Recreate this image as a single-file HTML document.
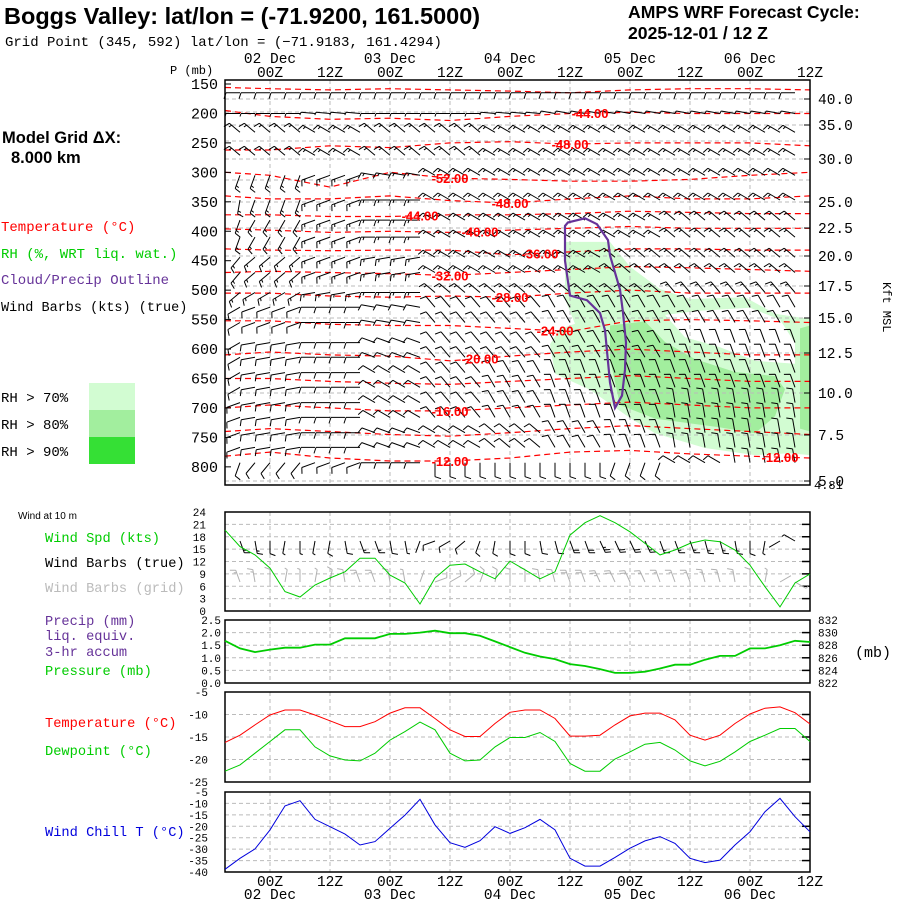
<!DOCTYPE html>
<html><head><meta charset="utf-8"><style>
html,body{margin:0;padding:0;background:#fff;}
svg{display:block;font-family:"Liberation Mono",monospace;}
.sans{font-family:"Liberation Sans",sans-serif;}
</style></head><body>
<svg id="svg" width="900" height="900" viewBox="0 0 900 900" xmlns="http://www.w3.org/2000/svg">
<g>
<text class="sans" x="4" y="24" font-size="23.5" font-weight="bold">Boggs Valley:  lat/lon = (-71.9200, 161.5000)</text>
<text x="5" y="46" font-size="14">Grid Point (345, 592) lat/lon = (−71.9183, 161.4294)</text>
<text class="sans" x="628" y="18" font-size="17.6" font-weight="bold">AMPS WRF Forecast Cycle:</text>
<text class="sans" x="628" y="39" font-size="17.6" font-weight="bold">2025-12-01 / 12  Z</text>
</g>
<g font-size="14">
<text class="sans" x="2" y="143" font-size="16.5" font-weight="bold">Model Grid ΔX:</text>
<text class="sans" x="11" y="163" font-size="16.5" font-weight="bold">8.000 km</text>
<text x="1" y="231" fill="#ff0000">Temperature (°C)</text>
<text x="1" y="258" fill="#00cc00">RH (%, WRT liq. wat.)</text>
<text x="1" y="284" fill="#663399">Cloud/Precip Outline</text>
<text x="1" y="311" font-size="13.5" fill="#000">Wind Barbs (kts) (true)</text>
<text x="1" y="402">RH &gt; 70%</text>
<text x="1" y="429">RH &gt; 80%</text>
<text x="1" y="456">RH &gt; 90%</text>
<rect x="89" y="383" width="46" height="27" fill="#d2fcd2"/>
<rect x="89" y="410" width="46" height="27" fill="#a2ee9e"/>
<rect x="89" y="437" width="46" height="27" fill="#35e035"/>
</g>
<g font-size="13.7">
<text class="sans" x="18" y="519" font-size="10">Wind at 10 m</text>
<text x="45" y="542" fill="#00cc00">Wind Spd (kts)</text>
<text x="45" y="567" fill="#000">Wind Barbs (true)</text>
<text x="45" y="592" fill="#bbbbbb">Wind Barbs (grid)</text>
<text x="45" y="625" fill="#663399">Precip (mm)</text>
<text x="45" y="640" fill="#663399">liq. equiv.</text>
<text x="45" y="656" fill="#663399">3-hr accum</text>
<text x="45" y="675" fill="#00cc00">Pressure (mb)</text>
<text x="45" y="727" fill="#ff0000">Temperature (°C)</text>
<text x="45" y="755" fill="#00cc00">Dewpoint (°C)</text>
<text x="45" y="836" fill="#0000dd">Wind Chill T (°C)</text>
<text x="855" y="657" font-size="15">(mb)</text>
<text x="170" y="74" font-size="12">P (mb)</text>
<text transform="translate(883,282) rotate(90)" font-size="12">Kft MSL</text>
</g>
<g id="main"></g>
<g id="bottom"></g>
</svg>
<script>
// ---------- data ----------
const hours3 = [0,3,6,9,12,15,18,21,24,27,30,33,36,39,42,45,48,51,54,57,60,63,66,69,72,75,78,81,84,87,90,93,96,99,102,105,108,111,114,117];
const gridHours = [9,21,33,45,57,69,81,93,105];
const gridLabels = ["00Z","12Z","00Z","12Z","00Z","12Z","00Z","12Z","00Z","12Z"];
const labelHours = [9,21,33,45,57,69,81,93,105,117];
const dateHours = [9,33,57,81,105];
const dateLabels = ["02 Dec","03 Dec","04 Dec","05 Dec","06 Dec"];
const pLevels = [150,200,250,300,350,400,450,500,550,600,650,700,750,800];
const kftVals = [40,37.5,35,32.5,30,27.5,25,22.5,20,17.5,15,12.5,10,7.5,5];
const kftY =    [99,112,125,141,159,180,202,228,256,286,318,353,393,435,481];
const kftLabels = ["40.0","35.0","30.0","25.0","22.5","20.0","17.5","15.0","12.5","10.0","7.5","5.0"];
const kftLabelVals = [40,35,30,25,22.5,20,17.5,15,12.5,10,7.5,5];

// isotherms: pressure (mb) at key hours
const isoHours = [0,9,21,33,45,57,69,81,93,105,117];
const isoTemps = [-40,-44,-48,-52,-48,-44,-40,-36,-32,-28,-24,-20,-18,-16,-14,-12];
const isoP = [
 [156,158,160,158,160,162,165,160,158,158,160],
 [195,205,210,208,212,205,200,198,200,200,200],
 [262,262,255,258,250,248,252,250,250,250,255],
 [300,305,325,300,310,312,315,315,312,305,300],
 [340,345,345,340,348,352,345,340,345,345,340],
 [372,372,375,375,372,372,370,366,368,370,370],
 [396,398,402,400,402,398,395,392,395,395,395],
 [430,432,433,432,432,440,435,430,430,432,432],
 [470,468,470,472,475,470,465,460,462,465,468],
 [505,505,510,512,510,512,505,500,505,505,505],
 [552,552,558,560,560,565,570,552,550,552,555],
 [610,605,610,612,620,612,605,600,605,610,610],
 [650,650,655,658,660,655,650,645,650,655,655],
 [700,695,700,705,705,700,695,690,695,700,700],
 [740,735,740,745,748,742,735,730,735,740,745],
 [782,775,785,790,790,785,775,772,778,782,785]
];
const isoLabelIdx = [1,2,3,4,5,6,7,8,9,10,11,13,15,15];
const isoLabelHour = [73,69,45,57,39,51,63,45,57,66,51,45,45,111];

// wind barbs aloft (key columns every 12h)
const barbRowsP = [165,200,232,271,305,347,381,410,444,470,504,529,555,589,614,640,665,691,716,742,767,793];
const keyLevels = [150,200,250,300,350,400,450,500,550,600,650,700,750,800];
const keyDirs = [
 [270,270,270,270,270,270,270,270,270,270],
 [270,270,275,270,270,275,280,280,280,280],
 [310,310,300,310,310,300,300,300,300,300],
 [200,200,250,280,300,300,300,300,300,300],
 [190,200,250,270,300,300,300,300,300,300],
 [200,210,250,270,300,300,300,300,310,310],
 [220,230,250,260,300,300,300,310,310,310],
 [230,240,260,270,310,310,310,310,320,320],
 [240,250,270,280,320,320,330,330,330,330],
 [240,260,270,290,320,320,330,330,340,340],
 [240,260,270,300,320,330,340,340,340,340],
 [250,260,270,300,320,330,340,340,350,350],
 [250,260,270,290,300,310,330,340,350,350],
 [200,220,250,270,180,180,180,200,300,350]
];
const keySpd = [10,5,15,15,15,15,15,15,10,10,10,10,10,10];

// RH > 70% region (hour, mb)
const rh70H = [68,77,81,87,93,104,110,117,117,113,106,96,86,81,73,66,65,67,70,68,68];
const rh70P = [418,418,460,498,515,512,540,549,780,777,780,768,743,717,669,642,592,566,557,515,464];
const holeH = [88,95,105,111,114,114,106,99,92];
const holeP = [542,535,530,550,590,625,620,597,580];
const rh80H = [77,84,88,94,102,110,112,110,106,99,86,79,77];
const rh80P = [560,553,588,617,639,646,668,714,743,733,718,695,617];
const rh80bH = [115,117,117,115];
const rh80bP = [565,560,740,735];

// cloud/precip outline (hour, mb)
const cloudH = [68.6,72,74.4,76.6,77,79,79.6,80.2,80,79.4,78,77,76,75,72.4,69,68,68];
const cloudP = [385,378,388,415,441,499,538,589,635,679,700,657,568,539,517,509,450,391];

// 10 m wind
const windSpd = [19.6,15.6,13.6,10.4,4.7,3.4,6.3,8,9.5,12.8,12.8,8.7,6.8,1.7,8,11.1,11.4,9.5,7.8,12.1,10,7.8,9.5,18.4,21.4,23.1,21.4,19.2,16.4,13.6,14.8,16.4,17.2,16.8,14.8,11.1,5.9,1.0,6.8,9.0];
const windDir = [160,160,170,180,190,180,190,190,170,160,160,170,170,200,250,240,230,200,190,180,180,170,165,160,160,155,155,155,155,160,160,160,165,165,170,180,190,240,300,290];
const windTicks = [0,3,6,9,12,15,18,21,24];
// pressure
const sfcP = [828.7,827.5,826.9,827.3,827.6,827.6,828.1,828.1,829.1,829.1,829.1,829.8,829.8,830.0,830.3,829.9,829.9,829.5,828.6,827.7,826.8,826.2,825.8,825.0,824.7,824.2,823.6,823.6,823.8,824.3,824.9,824.9,825.7,826.3,826.3,827.5,827.5,828.0,828.7,828.5];
const precipTicks = ["0.0","0.5","1.0","1.5","2.0","2.5"];
const presTicks = [822,824,826,828,830,832];
// temperature / dewpoint
const tempC = [-16.2,-14.6,-12.3,-10.1,-9.0,-9.0,-10.1,-11.4,-12.7,-12.7,-11.6,-9.7,-8.5,-8.5,-10.9,-13.4,-14.9,-14.9,-12.0,-9.5,-9.0,-9.0,-10.9,-14.8,-14.8,-14.6,-12.3,-10.3,-9.7,-9.7,-11.2,-14.6,-15.7,-14.6,-12.0,-9.9,-8.6,-8.3,-9.6,-12.1];
const dewC = [-22.6,-21.2,-18.6,-16.0,-13.4,-13.4,-17.2,-19.2,-20.1,-20.3,-18.6,-15.7,-13.8,-11.7,-13.4,-18.6,-20.3,-20.1,-17.2,-15.1,-15.1,-14.0,-16.0,-20.9,-22.6,-22.6,-19.9,-18.3,-16.6,-16.2,-17.9,-20.3,-21.4,-20.4,-18.3,-16.0,-14.6,-13.1,-13.1,-16.0];
const tempTicks = [-5,-10,-15,-20,-25];
// wind chill
const chillC = [-38.8,-34.0,-29.9,-21.6,-11.1,-8.8,-17.0,-20.2,-23.4,-28.2,-26.7,-20.9,-15.1,-8.2,-19.4,-27.2,-29.2,-26.3,-20.2,-23.1,-20.6,-17.0,-21.6,-34.0,-37.4,-37.4,-33.6,-29.6,-26.4,-24.5,-27.5,-34.0,-35.9,-34.8,-28.2,-22.4,-13.6,-7.8,-15.8,-22.4];
const chillTicks = [-5,-10,-15,-20,-25,-30,-35,-40];

// ---------- helpers ----------
const NS = "http://www.w3.org/2000/svg";
const X0 = 225, X1 = 810;
function xT(h){ return X0 + h*5; }
function yP(p){ return 84 + (p-150)*0.589; }
function lin(v, v0, v1, y0, y1){ return y0 + (v-v0)/(v1-v0)*(y1-y0); }
function mk(parent, tag, attrs){
  const e = document.createElementNS(NS, tag);
  for (const k in attrs) e.setAttribute(k, attrs[k]);
  parent.appendChild(e);
  return e;
}
function interp(xs, ys, x){
  if (x <= xs[0]) return ys[0];
  for (let i=1;i<xs.length;i++){ if (x <= xs[i]) return ys[i-1] + (ys[i]-ys[i-1])*(x-xs[i-1])/(xs[i]-xs[i-1]); }
  return ys[ys.length-1];
}
function barb(parent, x, y, dir, spd, color, sc){
  const g = mk(parent, "g", {stroke: color, "stroke-width": 1, fill: "none"});
  
  
  const L = 14*sc, r = dir*Math.PI/180;
  const sx = Math.sin(r), sy = -Math.cos(r);
  const ex = x + sx*L, ey = y + sy*L;
  let d = `M${x.toFixed(1)},${y.toFixed(1)}L${ex.toFixed(1)},${ey.toFixed(1)}`;
  const px = sy, py = -sx;
  let s = Math.round(spd/5)*5, pos = 0;
  const bl = 6*sc;
  while (s >= 10){ const bx = ex - sx*pos, by = ey - sy*pos;
    d += `M${bx.toFixed(1)},${by.toFixed(1)}l${(px*bl+sx*2).toFixed(1)},${(py*bl+sy*2).toFixed(1)}`; s -= 10; pos += 3*sc; }
  if (s >= 5){ const bx = ex - sx*pos, by = ey - sy*pos;
    d += `M${bx.toFixed(1)},${by.toFixed(1)}l${(px*bl/2+sx).toFixed(1)},${(py*bl/2+sy).toFixed(1)}`; }
  mk(g, "path", {d: d});
}

const main = document.getElementById("main");
const bottom = document.getElementById("bottom");

// ---------- main panel ----------
function poly(hs, ps){ return hs.map((h,i)=>xT(h).toFixed(1)+","+yP(ps[i]).toFixed(1)).join(" "); }
const clip = mk(main, "clipPath", {id:"mainclip"});
mk(clip, "rect", {x:X0, y:80, width:X1-X0, height:405});
const shade = mk(main, "g", {"clip-path":"url(#mainclip)"});


const s70 = mk(shade, "polygon", {points: poly(rh70H, rh70P), fill:"#d2fcd2"});


const sh = mk(shade, "polygon", {points: poly(holeH, holeP), fill:"#ffffff"});


const s80 = mk(shade, "polygon", {points: poly(rh80H, rh80P), fill:"#a2ee9e"});


const s80b = mk(shade, "polygon", {points: poly(rh80bH, rh80bP), fill:"#a2ee9e"});



const grid = mk(main, "g", {stroke:"#bbbbbb", "stroke-width":1, "stroke-dasharray":"4,3"});


gridHours.forEach(h => mk(grid, "line", {x1:xT(h), x2:xT(h), y1:80, y2:485}));
kftY.forEach(y => mk(grid, "line", {x1:X0, x2:X1, y1:y, y2:y}));

const iso = mk(main, "g", {"clip-path":"url(#mainclip)", stroke:"#ff0000", "stroke-width":1.2, fill:"none", "stroke-dasharray":"6,4"});


isoP.forEach((ps, i) => {
  const l = mk(iso, "polyline", {points: poly(isoHours, ps)});
  
  
});
const barbs = mk(main, "g", {});


barbRowsP.forEach(p => {
  let li = 0; for (let k=0;k<keyLevels.length;k++){ if (Math.abs(keyLevels[k]-p) < Math.abs(keyLevels[li]-p)) li = k; }
  hours3.forEach(h => {
    if (h === 0 || h === 117) return;
    const ci = Math.min(9, Math.round(h/12));
    barb(barbs, xT(h), yP(p), keyDirs[li][ci], keySpd[li], "#000", 1);
  });
});
const isoL = mk(main, "g", {fill:"#ff0000", "font-size":13, "font-weight":"bold", "text-anchor":"middle", "font-family":"Liberation Sans, sans-serif"});


isoLabelIdx.forEach((ii, k) => {
  const h = isoLabelHour[k], p = interp(isoHours, isoP[ii], h);
  const t = mk(isoL, "text", {x: xT(h), y: yP(p)+5});
  t.textContent = isoTemps[ii].toFixed(2);
  
  
});
const cl = mk(main, "polygon", {points: poly(cloudH, cloudP), fill:"none", stroke:"#663399", "stroke-width":2.2});


const fr = mk(main, "rect", {x:X0, y:80, width:X1-X0, height:405, fill:"none", stroke:"#000", "stroke-width":1.5});


const pax = mk(main, "g", {"font-size":15, "text-anchor":"end"});


pLevels.forEach(p => {
  const t = mk(pax, "text", {x:218, y:yP(p)+5}); t.textContent = p;
  
  
  mk(pax, "line", {x1:X0, x2:X0+6, y1:yP(p), y2:yP(p), stroke:"#000"});
});
const kax = mk(main, "g", {"font-size":14.5});


kftLabelVals.forEach((v,i) => {
  const y = interp(kftVals.slice().reverse(), kftY.slice().reverse(), v);
  const t = mk(kax, "text", {x:818, y:y+5}); t.textContent = kftLabels[i];
  
  
  mk(kax, "line", {x1:X1-6, x2:X1, y1:y, y2:y, stroke:"#000"});
});
const sfc = mk(kax, "text", {x:814, y:489, "font-size":12}); sfc.textContent = "4.81";


const tax = mk(main, "g", {"font-size":14.5, "text-anchor":"middle"});


labelHours.forEach((h,i) => { const t = mk(tax, "text", {x:xT(h), y:77}); t.textContent = gridLabels[i];
    });
dateHours.forEach((h,i) => { const t = mk(tax, "text", {x:xT(h), y:63}); t.textContent = dateLabels[i];
    });

// ---------- bottom panels ----------
function panel(name, top, bot, ticksY, tickLabels, leftX){
  const g = mk(bottom, "g", {});
  
  
  const gg = mk(g, "g", {stroke:"#bbbbbb", "stroke-dasharray":"4,3"});
  gridHours.forEach(h => mk(gg, "line", {x1:xT(h), x2:xT(h), y1:top, y2:bot}));
  ticksY.forEach((y,i) => {
    if (y > top+1 && y < bot-1){ mk(gg, "line", {x1:X0, x2:X1, y1:y, y2:y});
      mk(g, "line", {x1:X1-8, x2:X1, y1:y, y2:y, stroke:"#000", "stroke-width":1.5}); }
    const t = mk(g, "text", {x:leftX, y:y+4, "font-size":11, "text-anchor":"end"}); t.textContent = tickLabels[i];
     
  });
  const f = mk(g, "rect", {x:X0, y:top, width:X1-X0, height:bot-top, fill:"none", stroke:"#000", "stroke-width":1.5});
   
  return g;
}
function line(g, vals, yf, color, w, name){
  const pts = vals.map((v,i)=>xT(hours3[i]).toFixed(1)+","+yf(v).toFixed(1)).join(" ");
  const l = mk(g, "polyline", {points:pts, fill:"none", stroke:color, "stroke-width":w});
  
  
}
const yW = v => lin(v, 0, 24, 611, 512);
const gW = panel("wind-panel", 512, 611, windTicks.map(yW), windTicks.map(String), 206);
hours3.forEach((h,i) => { if (i>0 && i<39) barb(gW, xT(h), 582, (windDir[i]+180)%360, windSpd[i], "#b0b0b0", 0.9); });
hours3.forEach((h,i) => { if (i>0 && i<39) barb(gW, xT(h), 541, windDir[i], windSpd[i], "#000", 0.9); });
line(gW, windSpd, yW, "#00cc00", 1, "wind-speed-line");
const yPr = v => lin(v, 822, 832, 683, 620);
const gP = panel("precip-pressure-panel", 620, 683, presTicks.map(yPr), precipTicks, 221);
presTicks.forEach(v => { const t = mk(gP, "text", {x:818, y:yPr(v)+4, "font-size":11}); t.textContent = v;
    });
line(gP, sfcP, yPr, "#00cc00", 1.8, "pressure-line");
const yTe = v => lin(v, -5, -25, 692, 782);
const gT = panel("temperature-panel", 692, 782, tempTicks.map(yTe), tempTicks.map(String), 208);
line(gT, tempC, yTe, "#ff0000", 1, "temperature-line");
line(gT, dewC, yTe, "#00cc00", 1, "dewpoint-line");
const yC = v => lin(v, -5, -40, 792, 872);
const gC = panel("wind-chill-panel", 792, 872, chillTicks.map(yC), chillTicks.map(String), 208);
line(gC, chillC, yC, "#0000dd", 1, "wind-chill-line");
const bax = mk(bottom, "g", {"font-size":14.5, "text-anchor":"middle"});


labelHours.forEach((h,i) => { const t = mk(bax, "text", {x:xT(h), y:886}); t.textContent = gridLabels[i];
    });
dateHours.forEach((h,i) => { const t = mk(bax, "text", {x:xT(h), y:899}); t.textContent = dateLabels[i];
    });
</script>
</body></html>
